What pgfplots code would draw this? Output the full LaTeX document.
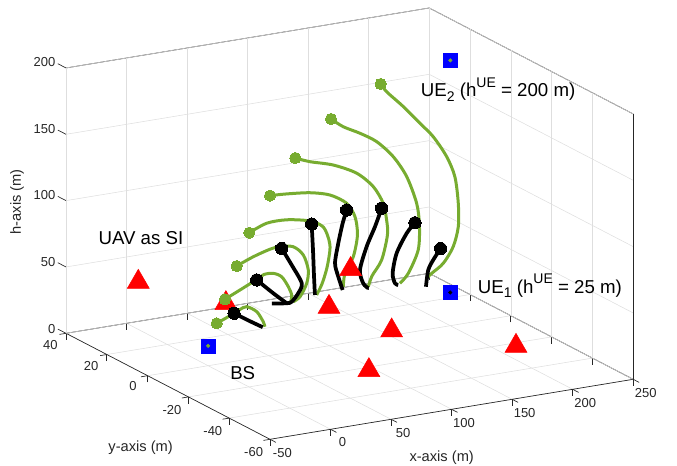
\documentclass[border=0pt]{standalone}
\usepackage{pgfplots}
\pgfplotsset{compat=1.18}
\usepackage{fontspec}
\setmainfont{Liberation Sans}
\definecolor{mgreen}{rgb}{0.466,0.674,0.188}
\definecolor{axgray}{rgb}{0.15,0.15,0.15}
\newcommand\mysub[1]{\raisebox{-0.45ex}{\fontsize{10.5}{11}\selectfont #1}}
\newcommand\mysup[1]{\raisebox{0.95ex}{\fontsize{10.5}{11}\selectfont #1}}
\begin{document}
\begin{tikzpicture}
\begin{axis}[
  x={(0.908pt,0.15pt)}, y={(-1.53pt,0.795pt)}, z={(0pt,0.995pt)},
  xmin=-50, xmax=250, ymin=-60, ymax=40, zmin=0, zmax=200,
  xtick={-50,0,...,250}, ytick={-60,-40,...,40}, ztick={0,50,...,200},
  grid=major, major grid style={black!13, line width=0.4pt},
  axis line style={axgray, line width=0.5pt},
  tick style={axgray, line width=0.5pt},
  ztick style={draw=none},
  tick align=outside, major tick length=5pt,
  tick pos=left,
  ticklabel style={font=\fontsize{9.75}{11}\selectfont, text=axgray},
  /pgf/number format/assume math mode=true,
  clip=false,
]
\coordinate (O) at (axis cs:0,0,0);
% z tick marks on the left vertical edge only
\draw[axgray, line width=0.5pt] (axis cs:-50,40,0) -- (axis cs:-50,44,0);
\draw[axgray, line width=0.5pt] (axis cs:-50,40,50) -- (axis cs:-50,44,50);
\draw[axgray, line width=0.5pt] (axis cs:-50,40,100) -- (axis cs:-50,44,100);
\draw[axgray, line width=0.5pt] (axis cs:-50,40,150) -- (axis cs:-50,44,150);
\draw[axgray, line width=0.5pt] (axis cs:-50,40,200) -- (axis cs:-50,44,200);
% UAVs acting as SI
\addplot3[only marks, mark=triangle*, mark size=9.5pt, color=red] coordinates {
(-6.8,30.2,40) (54.4,23.6,20) (157.6,23.7,30) (146.5,27.7,0) (157.3,3.4,0) (95.2,-22.3,0) (216.7,-22.3,0)};
% green trajectories
\pgfplotsset{gtraj/.style={mgreen, line width=2.25pt, smooth, mark=*, mark indices={1}, mark size=4.2pt, mark options={fill=mgreen, draw=mgreen, line width=0pt}}}
\pgfplotsset{btraj/.style={black, line width=2.8pt, smooth, mark=*, mark indices={1}, mark size=4.6pt, mark options={fill=black, draw=black, line width=0pt}}}
\addplot3[gtraj] coordinates {(7.1,0,30.9)(14.7,0,33.7)(21.4,0,36.3)(26.3,0,38.4)(31.8,0,39.7)(40.1,0,34.7)(45.5,0,26.3)(46.9,0,22.3)};
\addplot3[gtraj] coordinates {(13.9,0,48.0)(26.3,0,53.1)(40.1,0,58.9)(46.1,0,61.8)(53.8,0,61.5)(60.7,0,57.9)(66.2,0,49.6)(69.0,0,42.9)(68.2,0,38.0)};
\addplot3[gtraj] coordinates {(23.6,0,71.6)(37.3,0,76.5)(51.1,0,80.1)(59.3,0,80.8)(70.3,0,79.1)(78.6,0,71.6)(82.7,0,59.7)(81.4,0,49.8)(75.9,0,40.6)(70.3,0,37.6)};
\addplot3[gtraj] coordinates {(34.0,0,95.1)(48.4,0,100.1)(64.9,0,100.2)(84.1,0,96.4)(95.1,0,90.2)(99.8,0,79.7)(100.6,0,72.1)(98.1,0,58.9)(94.0,0,47.4)(89.6,0,39.8)};
\addplot3[gtraj] coordinates {(51.1,0,120.5)(64.9,0,119.7)(84.1,0,117.7)(100.6,0,113.5)(114.4,0,105.2)(121.3,0,94.0)(123.3,0,79.9)(119.9,0,64.1)(113.0,0,52.6)(111.6,0,42.7)};
\addplot3[gtraj] coordinates {(72.0,0,145.7)(84.1,0,141.1)(103.3,0,135.7)(122.7,0,126.6)(136.4,0,114.4)(144.6,0,100.6)(147.4,0,87.6)(148.1,0,76.2)(143.3,0,58.1)(135.3,0,47.2)(132.3,0,39.6)};
\addplot3[gtraj] coordinates {(101.5,0,170.7)(111.6,0,163.3)(125.4,0,156.3)(139.2,0,147.9)(152.9,0,134.5)(164.0,0,117.8)(172.2,0,96.5)(174.5,0,79.8)(173.5,0,61.1)(165.3,0,44.7)(158.4,0,38.2)};
\addplot3[gtraj] coordinates {(142.5,0,190.9)(147.4,0,184.3)(161.2,0,171.0)(174.9,0,156.4)(185.9,0,144.6)(197.0,0,127.9)(203.8,0,111.7)(206.6,0,91.3)(206.6,0,73.6)(202.4,0,59.2)(194.2,0,47.9)(184.6,0,41.8)(181.8,0,39.7)};
% black trajectories
\addplot3[btraj] coordinates {(21.4,0,36.3)(32.9,0,29.3)(45.1,0,22.2)};
\addplot3[btraj] coordinates {(40.1,0,58.6)(53.8,0,46.5)(64.9,0,37.3)};
\addplot3[btraj] coordinates {(60.7,0,79.3)(69.0,0,65.5)(77.3,0,50.5)(74.4,0,43.4)(69.0,0,37.8)(64.9,0,37.3)(52.7,0,38.9)};
\addplot3[btraj] coordinates {(85.5,0,93.9)(86.6,0,74.2)(87.4,0,55.2)(88.2,0,40.0)};
\addplot3[btraj] coordinates {(114.4,0,100.1)(111.1,0,90.6)(107.5,0,76.1)(104.8,0,61.4)(107.5,0,50.9)(111.1,0,40.3)};
\addplot3[btraj] coordinates {(143.3,0,97.1)(137.8,0,84.0)(130.9,0,70.0)(125.4,0,53.2)(128.1,0,42.8)(132.3,0,38.4)};
\addplot3[btraj] coordinates {(170.8,0,82.0)(164.0,0,75.1)(155.7,0,61.3)(152.4,0,46.7)(154.3,0,38.9)(157.0,0,37.2)};
\addplot3[btraj] coordinates {(192.0,0,59.4)(185.9,0,51.7)(181.8,0,44.7)(179.9,0,32.4)};
% BS and UEs
\addplot3[only marks, mark=square*, mark size=5.25pt, color=blue] coordinates {(0,0,15) (200,0,25) (200,0,200)};
\addplot3[only marks, mark=*, mark size=1.3pt, color=mgreen] coordinates {(0,0,15) (200,0,200)};
\addplot3[only marks, mark=*, mark size=1.3pt, color=black] coordinates {(200,0,25)};
\end{axis}
\coordinate (TL) at ([shift={(-156.11pt,274.28pt)}]O);
\begin{scope}[shift={(TL)}, x=0.75pt, y=-0.75pt]
\node[anchor=base west, inner sep=0pt, font=\fontsize{14}{16}\selectfont] at (98.3,245) {UAV as SI};
\node[anchor=base west, inner sep=0pt, font=\fontsize{14}{16}\selectfont] at (230,380) {BS};
\node[anchor=base west, inner sep=0pt, font=\fontsize{14}{16}\selectfont] at (420.7,96.7) {UE\mysub{2} (h\mysup{UE} = 200 m)};
\node[anchor=base west, inner sep=0pt, font=\fontsize{14}{16}\selectfont] at (477.7,293.3) {UE\mysub{1} (h\mysup{UE} = 25 m)};
\node[inner sep=0pt, font=\fontsize{11}{13}\selectfont, text=axgray] at (441.7,458) {x-axis (m)};
\node[inner sep=0pt, font=\fontsize{11}{13}\selectfont, text=axgray] at (140.6,448) {y-axis (m)};
\node[inner sep=0pt, rotate=90, font=\fontsize{11}{13}\selectfont, text=axgray] at (17,201.7) {h-axis (m)};
\end{scope}
\pgfresetboundingbox
\path[use as bounding box] (TL) rectangle ([shift={(507.75pt,-349.5pt)}]TL);
\end{tikzpicture}
\end{document}
